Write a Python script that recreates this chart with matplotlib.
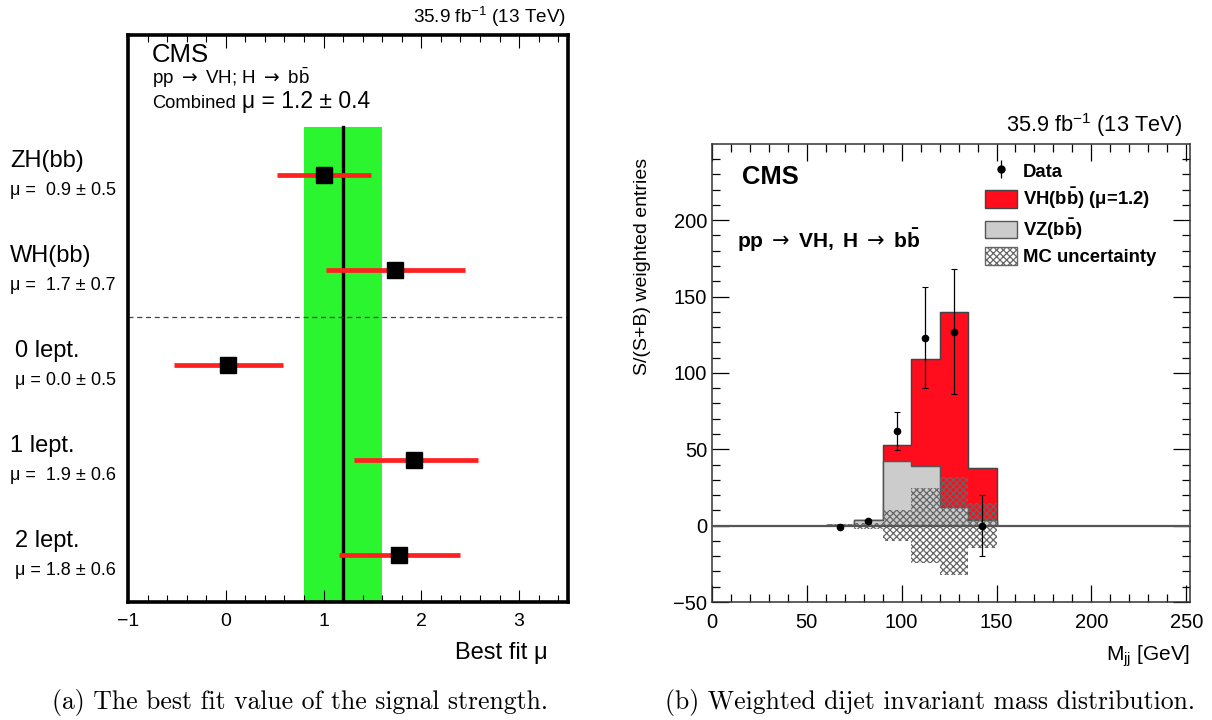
import matplotlib
matplotlib.use("Agg")
import matplotlib.pyplot as plt
import numpy as np
from matplotlib.patches import Patch
from matplotlib.lines import Line2D
from matplotlib.ticker import MultipleLocator
import matplotlib.transforms as mtransforms

plt.rcParams['font.family'] = ['Liberation Sans', 'DejaVu Sans']
plt.rcParams['mathtext.fontset'] = 'custom'
plt.rcParams['mathtext.rm'] = 'Liberation Sans'
plt.rcParams['mathtext.it'] = 'Liberation Sans:italic'
plt.rcParams['mathtext.bf'] = 'Liberation Sans:bold'
plt.rcParams['mathtext.sf'] = 'DejaVu Sans'
plt.rcParams['hatch.linewidth'] = 0.9

# --- panel (a): best fit mu por canal ---
canales = ["ZH(bb)", "WH(bb)", "0 lept.", "1 lept.", "2 lept."]
etiquetas_mu = [r"μ =  0.9 ± 0.5", r"μ =  1.7 ± 0.7", r"μ = 0.0 ± 0.5",
                r"μ =  1.9 ± 0.6", r"μ = 1.8 ± 0.6"]
mu_central = [1.00, 1.73, 0.02, 1.92, 1.77]
mu_bajo = [0.52, 1.03, -0.53, 1.31, 1.16]
mu_alto = [1.49, 2.45, 0.59, 2.58, 2.40]
mu_comb = 1.2
mu_comb_err = 0.4

# --- panel (b): masa dijet ponderada ---
bordes = [60, 75, 90, 105, 120, 135, 150]
vz = [0.5, 3.5, 42, 39, 12, 3.5]
vh = [0, 0, 10.5, 70, 128, 34]
incert = [1, 2, 10, 24.5, 32, 14.5]
datos = [-1, 3, 62, 123, 127, 0]
datos_err = [0.5, 1, 12.5, 33, 41, 20]

ARROW = r"$\mathsf{\rightarrow}$"

fig = plt.figure(figsize=(12.12, 7.2), dpi=100)

# ================= panel izquierdo =================
ax1 = fig.add_axes([128/1212, 1-602/720, 440/1212, 567/720])
ax1.set_xlim(-1, 3.5)
ax1.set_ylim(0.5, 6.47)
ypos = np.arange(len(canales), 0, -1)   # 5 arriba ... 1 abajo

ax1.axvspan(mu_comb - mu_comb_err, mu_comb + mu_comb_err, ymin=0, ymax=(5.5-0.5)/(6.47-0.5),
            color='#2af52e', lw=0, zorder=1)
ax1.plot([mu_comb, mu_comb], [0.5, 5.5], color='black', lw=2.4, zorder=2)
ax1.axhline(3.5, color='#444444', lw=0.9, ls=(0, (4, 3)), zorder=2)

for y, c, lo, hi in zip(ypos, mu_central, mu_bajo, mu_alto):
    ax1.plot([lo, hi], [y, y], color='#ff2020', lw=3.4, solid_capstyle='butt', zorder=3)
    ax1.plot(c, y, marker='s', ms=11.5, color='black', zorder=4)

trans = mtransforms.blended_transform_factory(fig.transFigure, ax1.transData)
for i, (y, nom, et) in enumerate(zip(ypos, canales, etiquetas_mu)):
    xoff = 10/1212 if i in (0, 1, 3) else 15/1212
    ax1.text(xoff, y + 0.145, nom, transform=trans, fontsize=17, va='center', ha='left')
    ax1.text(xoff, y - 0.165, et, transform=trans, fontsize=13, va='center', ha='left')

ax1.set_yticks([])
ax1.xaxis.set_major_locator(MultipleLocator(1))
ax1.xaxis.set_minor_locator(MultipleLocator(0.2))
ax1.tick_params(axis='x', which='both', direction='in', top=True, labelsize=14, pad=8)
ax1.tick_params(axis='x', which='major', length=9, width=0.8)
ax1.tick_params(axis='x', which='minor', length=5, width=0.8)
for s in ax1.spines.values():
    s.set_linewidth(2.6)

ax1.text(0.055, 0.965, "CMS", transform=ax1.transAxes, fontsize=18.5, va='center')
ax1.text(0.055, 0.924, "pp " + ARROW + r" VH; H " + ARROW + r" $\mathrm{b\bar{b}}$",
         transform=ax1.transAxes, fontsize=13.5, va='center')
ax1.text(0.055, 0.871, "Combined", transform=ax1.transAxes, fontsize=13.2, va='baseline')
ax1.text(0.259, 0.871, "μ = 1.2 ± 0.4", transform=ax1.transAxes, fontsize=16.5, va='baseline')

fig.text(566/1212, 1-17/720, r"35.9 fb$^{-1}$ (13 TeV)", fontsize=13.6, ha='right', va='center')
fig.text(548/1212, 1-653/720, "Best fit μ", fontsize=17, ha='right', va='center')

# ================= panel derecho =================
ax2 = fig.add_axes([712/1212, 1-602/720, 478/1212, 458/720])
ax2.set_xlim(0, 252)
ax2.set_ylim(-50, 249.9)

bordes = np.array(bordes)
total = np.array(vz) + np.array(vh)
ax2.stairs(total, bordes, fill=True, facecolor='#ff0d1c', edgecolor='#444444', lw=0.9, zorder=2)
ax2.stairs(total, bordes, fill=False, color='#444444', lw=0.9, zorder=2)
ax2.stairs(vz, bordes, fill=True, facecolor='#cccccc', edgecolor='#555555', lw=0.9, zorder=3)
ax2.stairs(vz, bordes, fill=False, color='#555555', lw=0.9, zorder=3)
incert = np.array(incert)
ax2.bar(bordes[:-1], 2*incert, width=np.diff(bordes), bottom=-incert, align='edge',
        facecolor='none', edgecolor='#666666', hatch='xxxxx', lw=0, zorder=4)
ax2.axhline(0, color='#555555', lw=1.6, zorder=5)

centros = 0.5*(bordes[:-1] + bordes[1:])
ax2.errorbar(centros, datos, yerr=datos_err, fmt='o', color='black', ms=4.5,
             elinewidth=0.9, capsize=2, capthick=0.8, zorder=6)

ax2.xaxis.set_major_locator(MultipleLocator(50))
ax2.xaxis.set_minor_locator(MultipleLocator(10))
ax2.yaxis.set_major_locator(MultipleLocator(50))
ax2.yaxis.set_minor_locator(MultipleLocator(10))
ax2.tick_params(which='both', direction='in', top=True, right=True, labelsize=14.5)
ax2.tick_params(which='major', length=12, width=0.9)
ax2.tick_params(which='minor', length=6, width=0.9)
ax2.tick_params(axis='x', pad=8)
for s in ax2.spines.values():
    s.set_linewidth(1.1)
    s.set_color('#333333')

ax2.set_ylabel("S/(S+B) weighted entries", fontsize=14, loc='top')
ax2.yaxis.set_label_coords(-0.127, 0.97)
ax2.set_xlabel(r"M$_{\mathrm{jj}}$ [GeV]", fontsize=15, loc='right', labelpad=8)

ax2.text(0.063, 0.928, "CMS", transform=ax2.transAxes, fontsize=18.4, fontweight='bold', va='center')
ax2.text(0.052, 0.79, r"$\mathbf{pp}$ " + ARROW + r" $\mathbf{VH,\ H}$ " + ARROW + r" $\mathbf{b\bar{b}}$",
         transform=ax2.transAxes, fontsize=15, fontweight='bold', va='center')

manejadores = [
    (Line2D([0], [0], marker='|', ms=13, mew=0.9, color='black', lw=0),
     Line2D([0], [0], marker='o', ms=5, color='black', lw=0)),
    Patch(facecolor='#ff0d1c', edgecolor='#444444'),
    Patch(facecolor='#cccccc', edgecolor='#555555'),
    Patch(facecolor='white', edgecolor='#666666', hatch='xxxxx'),
]
textos = ["Data", r"VH($\mathbf{b\bar{b}}$) (μ=1.2)", r"VZ($\mathbf{b\bar{b}}$)", "MC uncertainty"]
ley = ax2.legend(manejadores, textos, loc='upper left', bbox_to_anchor=(0.571, 0.962),
                 frameon=False, handlelength=1.73, handleheight=1.1, labelspacing=0.3,
                 borderpad=0, borderaxespad=0,
                 prop={'weight': 'bold', 'size': 13.3}, handletextpad=0.32)

fig.text(1182/1212, 1-125/720, r"35.9 fb$^{-1}$ (13 TeV)", fontsize=15.7, ha='right', va='center')

# pies de figura
fig.text(300/1212, 1-703/720, "(a) The best fit value of the signal strength.",
         family='cmr10', fontsize=18.5, ha='center', va='center')
fig.text(930/1212, 1-703/720, "(b) Weighted dijet invariant mass distribution.",
         family='cmr10', fontsize=18.5, ha='center', va='center')

fig.savefig("out.png", dpi=100)
